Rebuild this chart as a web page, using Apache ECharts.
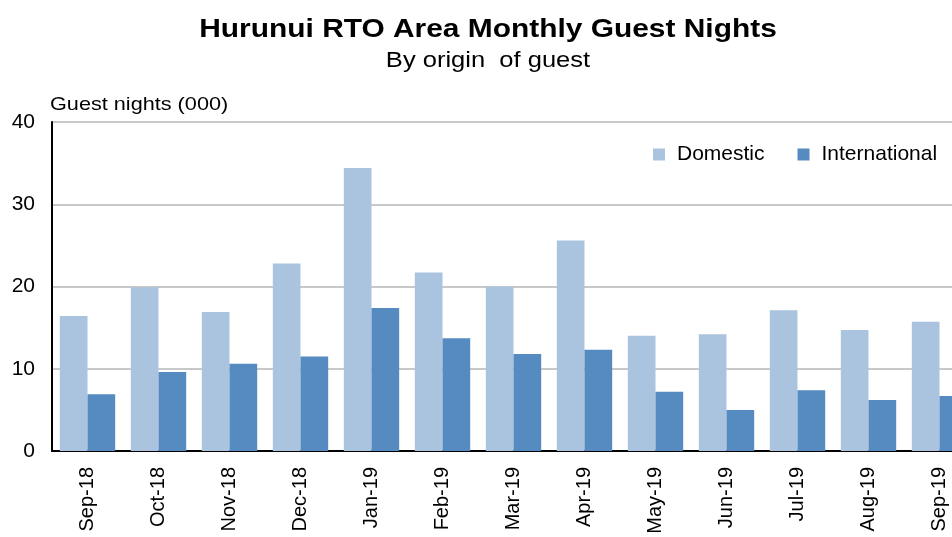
<!DOCTYPE html>
<html>
<head>
<meta charset="utf-8">
<script src="https://cdn.jsdelivr.net/npm/echarts@6/dist/echarts.min.js"></script>
<style>
html,body{margin:0;padding:0;background:#fff;}
#chart{width:952px;height:537px;}
</style>
</head>
<body>
<div id="chart"></div>
<script>
const categories = ['Sep-18','Oct-18','Nov-18','Dec-18','Jan-19','Feb-19','Mar-19','Apr-19','May-19','Jun-19','Jul-19','Aug-19','Sep-19'];
const domestic = [16.4, 19.9, 16.9, 22.8, 34.4, 21.7, 20.0, 25.6, 14.0, 14.2, 17.1, 14.7, 15.7];
const international = [6.9, 9.6, 10.6, 11.5, 17.4, 13.7, 11.8, 12.3, 7.2, 5.0, 7.4, 6.2, 6.7];
const seriesNames = ['Domestic', 'International'];
const titleText = 'Hurunui RTO Area Monthly Guest Nights';
const subtitleText = 'By origin  of guest';
const yAxisTitle = 'Guest nights (000)';

const FONT = 'Liberation Sans, Arial, sans-serif';
const chart = echarts.init(document.getElementById('chart'), null, {renderer: 'canvas'});
chart.setOption({
  backgroundColor: '#ffffff',
  animation: false,
  graphic: [
    {type: 'text', x: 488, y: 17, scaleX: 1.15,
     style: {text: titleText, font: 'bold 26px ' + FONT, fill: '#000', align: 'center', textAlign: 'center', verticalAlign: 'top', textVerticalAlign: 'top'}},
    {type: 'text', x: 488, y: 50, scaleX: 1.16,
     style: {text: subtitleText, font: '22px ' + FONT, fill: '#000', align: 'center', textAlign: 'center', verticalAlign: 'top', textVerticalAlign: 'top'}},
    {type: 'text', x: 50, y: 95, scaleX: 1.14,
     style: {text: yAxisTitle, font: '19px ' + FONT, fill: '#000', align: 'left', textAlign: 'left', verticalAlign: 'top', textVerticalAlign: 'top'}}
  ],
  legend: {
    data: seriesNames,
    left: 653, top: 144, padding: 0,
    icon: 'rect', itemWidth: 12, itemHeight: 12, itemGap: 33,
    textStyle: {fontSize: 21, fontFamily: FONT, color: '#000', padding: [0, 0, 0, 7]}
  },
  grid: {left: 52, top: 122, width: 923, height: 329, containLabel: false, outerBoundsMode: 'none'},
  xAxis: {
    type: 'category', data: categories,
    axisLine: {lineStyle: {color: '#000', width: 2}},
    axisTick: {show: false},
    axisLabel: {rotate: 90, fontSize: 20, fontFamily: FONT, color: '#000', margin: 16},
    splitLine: {show: false}
  },
  yAxis: {
    type: 'value', min: 0, max: 40, interval: 10,
    axisLine: {show: true, lineStyle: {color: '#000', width: 2}},
    axisTick: {show: false},
    axisLabel: {fontSize: 21, fontFamily: FONT, color: '#000', margin: 17},
    splitLine: {lineStyle: {color: '#c8c8c8', width: 2}}
  },
  series: [
    {name: seriesNames[0], type: 'bar', data: domestic, barGap: '0%', barCategoryGap: '22%',
     itemStyle: {color: '#aac4df'}},
    {name: seriesNames[1], type: 'bar', data: international, barGap: '0%', barCategoryGap: '22%',
     itemStyle: {color: '#558bc1'}}
  ]
});
</script>
</body>
</html>
